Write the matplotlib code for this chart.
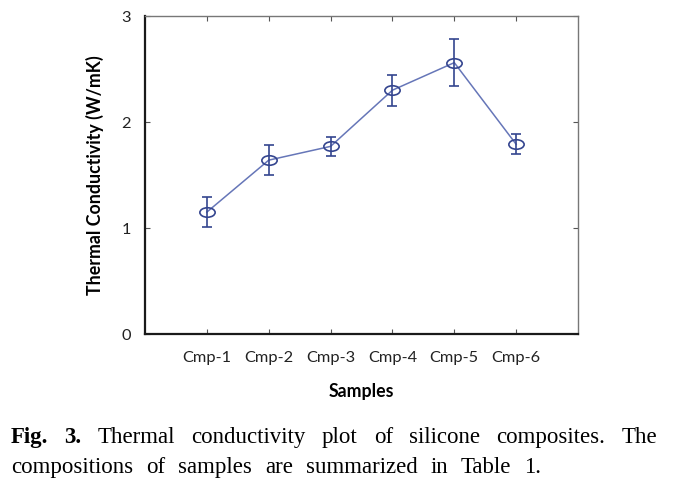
import matplotlib
matplotlib.use("Agg")
import matplotlib.pyplot as plt
import numpy as np
from matplotlib.path import Path
from matplotlib.transforms import Affine2D

# ---- data ----
samples = ["Cmp-1", "Cmp-2", "Cmp-3", "Cmp-4", "Cmp-5", "Cmp-6"]
conductivity = [1.15, 1.64, 1.77, 2.30, 2.56, 1.79]
errors = [0.145, 0.14, 0.09, 0.145, 0.22, 0.095]
yticks = [0, 1, 2, 3]

caption_line1 = ["Fig.", "3.", "Thermal", "conductivity", "plot", "of", "silicone", "composites.", "The"]
caption_line2 = ["compositions", "of", "samples", "are", "summarized", "in", "Table", "1."]
bold_words = {"Fig.", "3."}

W, H = 677, 488
fig = plt.figure(figsize=(W / 100, H / 100), dpi=100)
ax = fig.add_axes([145 / W, 1 - 334 / H, (578 - 145) / W, (334 - 16) / H])

line_col = "#6676b8"
err_col = "#34458f"
tick_font = "Lato"

x = np.arange(1, len(samples) + 1)
ax.plot(x, conductivity, color=line_col, lw=1.1, zorder=2)
ellipse = Path.unit_circle().transformed(Affine2D().scale(1.0, 0.62))
ax.errorbar(x, conductivity, yerr=errors, fmt="none", ecolor=err_col,
            elinewidth=1.2, capsize=3.6, capthick=1.2, zorder=3)
ax.plot(x, conductivity, linestyle="none", marker=ellipse, markersize=11,
        markerfacecolor="none", markeredgecolor=err_col, markeredgewidth=1.2, zorder=4)

ax.set_xlim(0, 7)
ax.set_ylim(0, 3)
ax.set_xticks(x)
ax.set_xticklabels(samples, fontfamily=tick_font, fontsize=11.8, color="#222222")
ax.set_yticks(yticks)
ax.set_yticklabels([str(v) for v in yticks], fontfamily=tick_font, fontsize=11.8, color="#222222")

ax.tick_params(axis="both", direction="in", length=3.5, width=0.8, color="#555555",
               top=True, right=True)
ax.tick_params(axis="x", pad=12)
ax.tick_params(axis="y", pad=10)

for side in ["left", "bottom"]:
    ax.spines[side].set_linewidth(1.6)
    ax.spines[side].set_color("#1a1a1a")
for side in ["top", "right"]:
    ax.spines[side].set_linewidth(1.0)
    ax.spines[side].set_color("#777777")

ax.set_xlabel("Samples", fontfamily=tick_font, fontweight="bold", fontsize=12.8, labelpad=13)
ax.set_ylabel("Thermal Conductivity (W/mK)", fontfamily=tick_font, fontweight="bold",
              fontsize=12.8, labelpad=13)

# ---- caption (justified first line) ----
cap_size = 16.5
fig.canvas.draw()
renderer = fig.canvas.get_renderer()

def make_words(words, ybase):
    objs = []
    for w in words:
        t = fig.text(0, 1 - ybase / H, w, fontfamily="Liberation Serif", fontsize=cap_size,
                     fontweight="bold" if w in bold_words else "normal",
                     va="baseline", ha="left", color="black")
        objs.append(t)
    return objs

def widths(objs):
    return [o.get_window_extent(renderer=renderer).width for o in objs]

l1 = make_words(caption_line1, 443)
w1 = widths(l1)
x0, x1 = 11, 657
gap = (x1 - x0 - sum(w1)) / (len(w1) - 1)
cx = x0
for o, w in zip(l1, w1):
    o.set_x(cx / W)
    cx += w + gap

l2 = make_words(caption_line2, 473)
w2 = widths(l2)
gap2 = gap * 0.8
cx = x0
for o, w in zip(l2, w2):
    o.set_x(cx / W)
    cx += w + gap2

fig.savefig("out.png", dpi=100)
